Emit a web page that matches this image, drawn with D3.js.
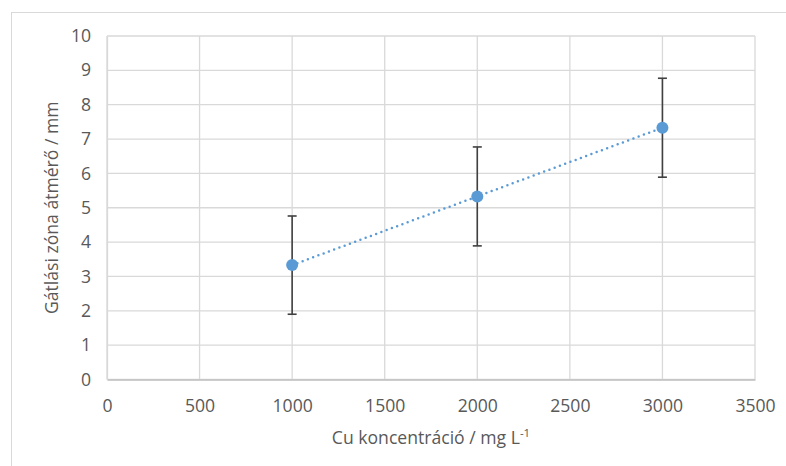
<!DOCTYPE html>
<html>
<head>
<meta charset="utf-8">
<script src="https://cdn.jsdelivr.net/npm/d3@7"></script>
<style>
  html, body { margin: 0; padding: 0; background: #fff; }
  svg { display: block; }
  text { font-family: "Open Sans", "Noto Sans", sans-serif; fill: #595959; }
</style>
</head>
<body>
<svg id="chart" width="786" height="466"></svg>
<script>
// Data
const concentrations = [1000, 2000, 3000];
const diameters = [3.33, 5.33, 7.33];
const errors = [1.43, 1.44, 1.44];
const xTicks = [0, 500, 1000, 1500, 2000, 2500, 3000, 3500];
const yTicks = [0, 1, 2, 3, 4, 5, 6, 7, 8, 9, 10];
const xTitle = "Cu koncentráció / mg L";
const xTitleSup = "-1";
const yTitle = "Gátlási zóna átmérő / mm";

const svg = d3.select("#chart");
const m = { left: 107, right: 755, top: 36, bottom: 379.5 };
const FS = "17.6px";

// outer chart border (extends past right/bottom edge)
svg.append("rect")
  .attr("x", 11.5).attr("y", 12.5)
  .attr("width", 800).attr("height", 500)
  .attr("fill", "#fff").attr("stroke", "#d9d9d9").attr("stroke-width", 1);

const x = d3.scaleLinear().domain([0, 3500]).range([m.left, m.right]);
const y = d3.scaleLinear().domain([0, 10]).range([m.bottom, m.top]);

// gridlines
const grid = svg.append("g");
grid.selectAll("line.h").data(yTicks).join("line")
  .attr("x1", m.left).attr("x2", m.right)
  .attr("y1", d => y(d)).attr("y2", d => y(d))
  .attr("stroke", "#d9d9d9").attr("stroke-width", 1.3);
grid.selectAll("line.v").data(xTicks).join("line")
  .attr("x1", d => x(d)).attr("x2", d => x(d))
  .attr("y1", m.top).attr("y2", m.bottom)
  .attr("stroke", "#d9d9d9").attr("stroke-width", 1.3);

// axes
const xAxis = svg.append("g")
  .attr("transform", `translate(0,${m.bottom})`)
  .call(d3.axisBottom(x).tickValues(xTicks).tickSize(0).tickPadding(20).tickFormat(d3.format("d")));
xAxis.select(".domain").attr("stroke", "#bfbfbf").attr("stroke-width", 1.3);
xAxis.selectAll("text").style("font-size", FS).attr("fill", "#595959");

const yAxis = svg.append("g")
  .attr("transform", `translate(${m.left},0)`)
  .call(d3.axisLeft(y).tickValues(yTicks).tickSize(0).tickPadding(16).tickFormat(d3.format("d")));
yAxis.select(".domain").attr("stroke", "#d9d9d9").attr("stroke-width", 1.3);
yAxis.selectAll("text").style("font-size", FS).attr("fill", "#595959");

// axis titles
const xt = svg.append("text")
  .attr("x", (m.left + m.right) / 2).attr("y", 444)
  .attr("text-anchor", "middle").style("font-size", FS);
xt.append("tspan").text(xTitle);
xt.append("tspan").text(xTitleSup).attr("dy", -7).style("font-size", "11.5px");

svg.append("text")
  .attr("transform", `translate(58,${(m.top + m.bottom) / 2}) rotate(-90)`)
  .attr("text-anchor", "middle").style("font-size", FS)
  .text(yTitle);

// linear trendline (least squares)
const mx = d3.mean(concentrations), my = d3.mean(diameters);
const slope = d3.sum(concentrations, (c, i) => (c - mx) * (diameters[i] - my)) /
              d3.sum(concentrations, c => (c - mx) ** 2);
const icpt = my - slope * mx;
const xs = d3.extent(concentrations);
svg.append("line")
  .attr("x1", x(xs[0])).attr("y1", y(icpt + slope * xs[0]))
  .attr("x2", x(xs[1])).attr("y2", y(icpt + slope * xs[1]))
  .attr("stroke", "#5b9bd5").attr("stroke-width", 2.5)
  .attr("stroke-linecap", "round").attr("stroke-dasharray", "0 5.6");

// error bars
const eb = svg.append("g").attr("stroke", "#404040").attr("stroke-width", 1.6);
concentrations.forEach((c, i) => {
  const cx = x(c), lo = y(diameters[i] - errors[i]), hi = y(diameters[i] + errors[i]);
  eb.append("line").attr("x1", cx).attr("x2", cx).attr("y1", lo).attr("y2", hi);
  eb.append("line").attr("x1", cx - 4.5).attr("x2", cx + 4.5).attr("y1", lo).attr("y2", lo);
  eb.append("line").attr("x1", cx - 4.5).attr("x2", cx + 4.5).attr("y1", hi).attr("y2", hi);
});

// markers
svg.append("g").selectAll("circle").data(concentrations).join("circle")
  .attr("cx", d => x(d)).attr("cy", (d, i) => y(diameters[i]))
  .attr("r", 6).attr("fill", "#5b9bd5");
</script>
</body>
</html>
